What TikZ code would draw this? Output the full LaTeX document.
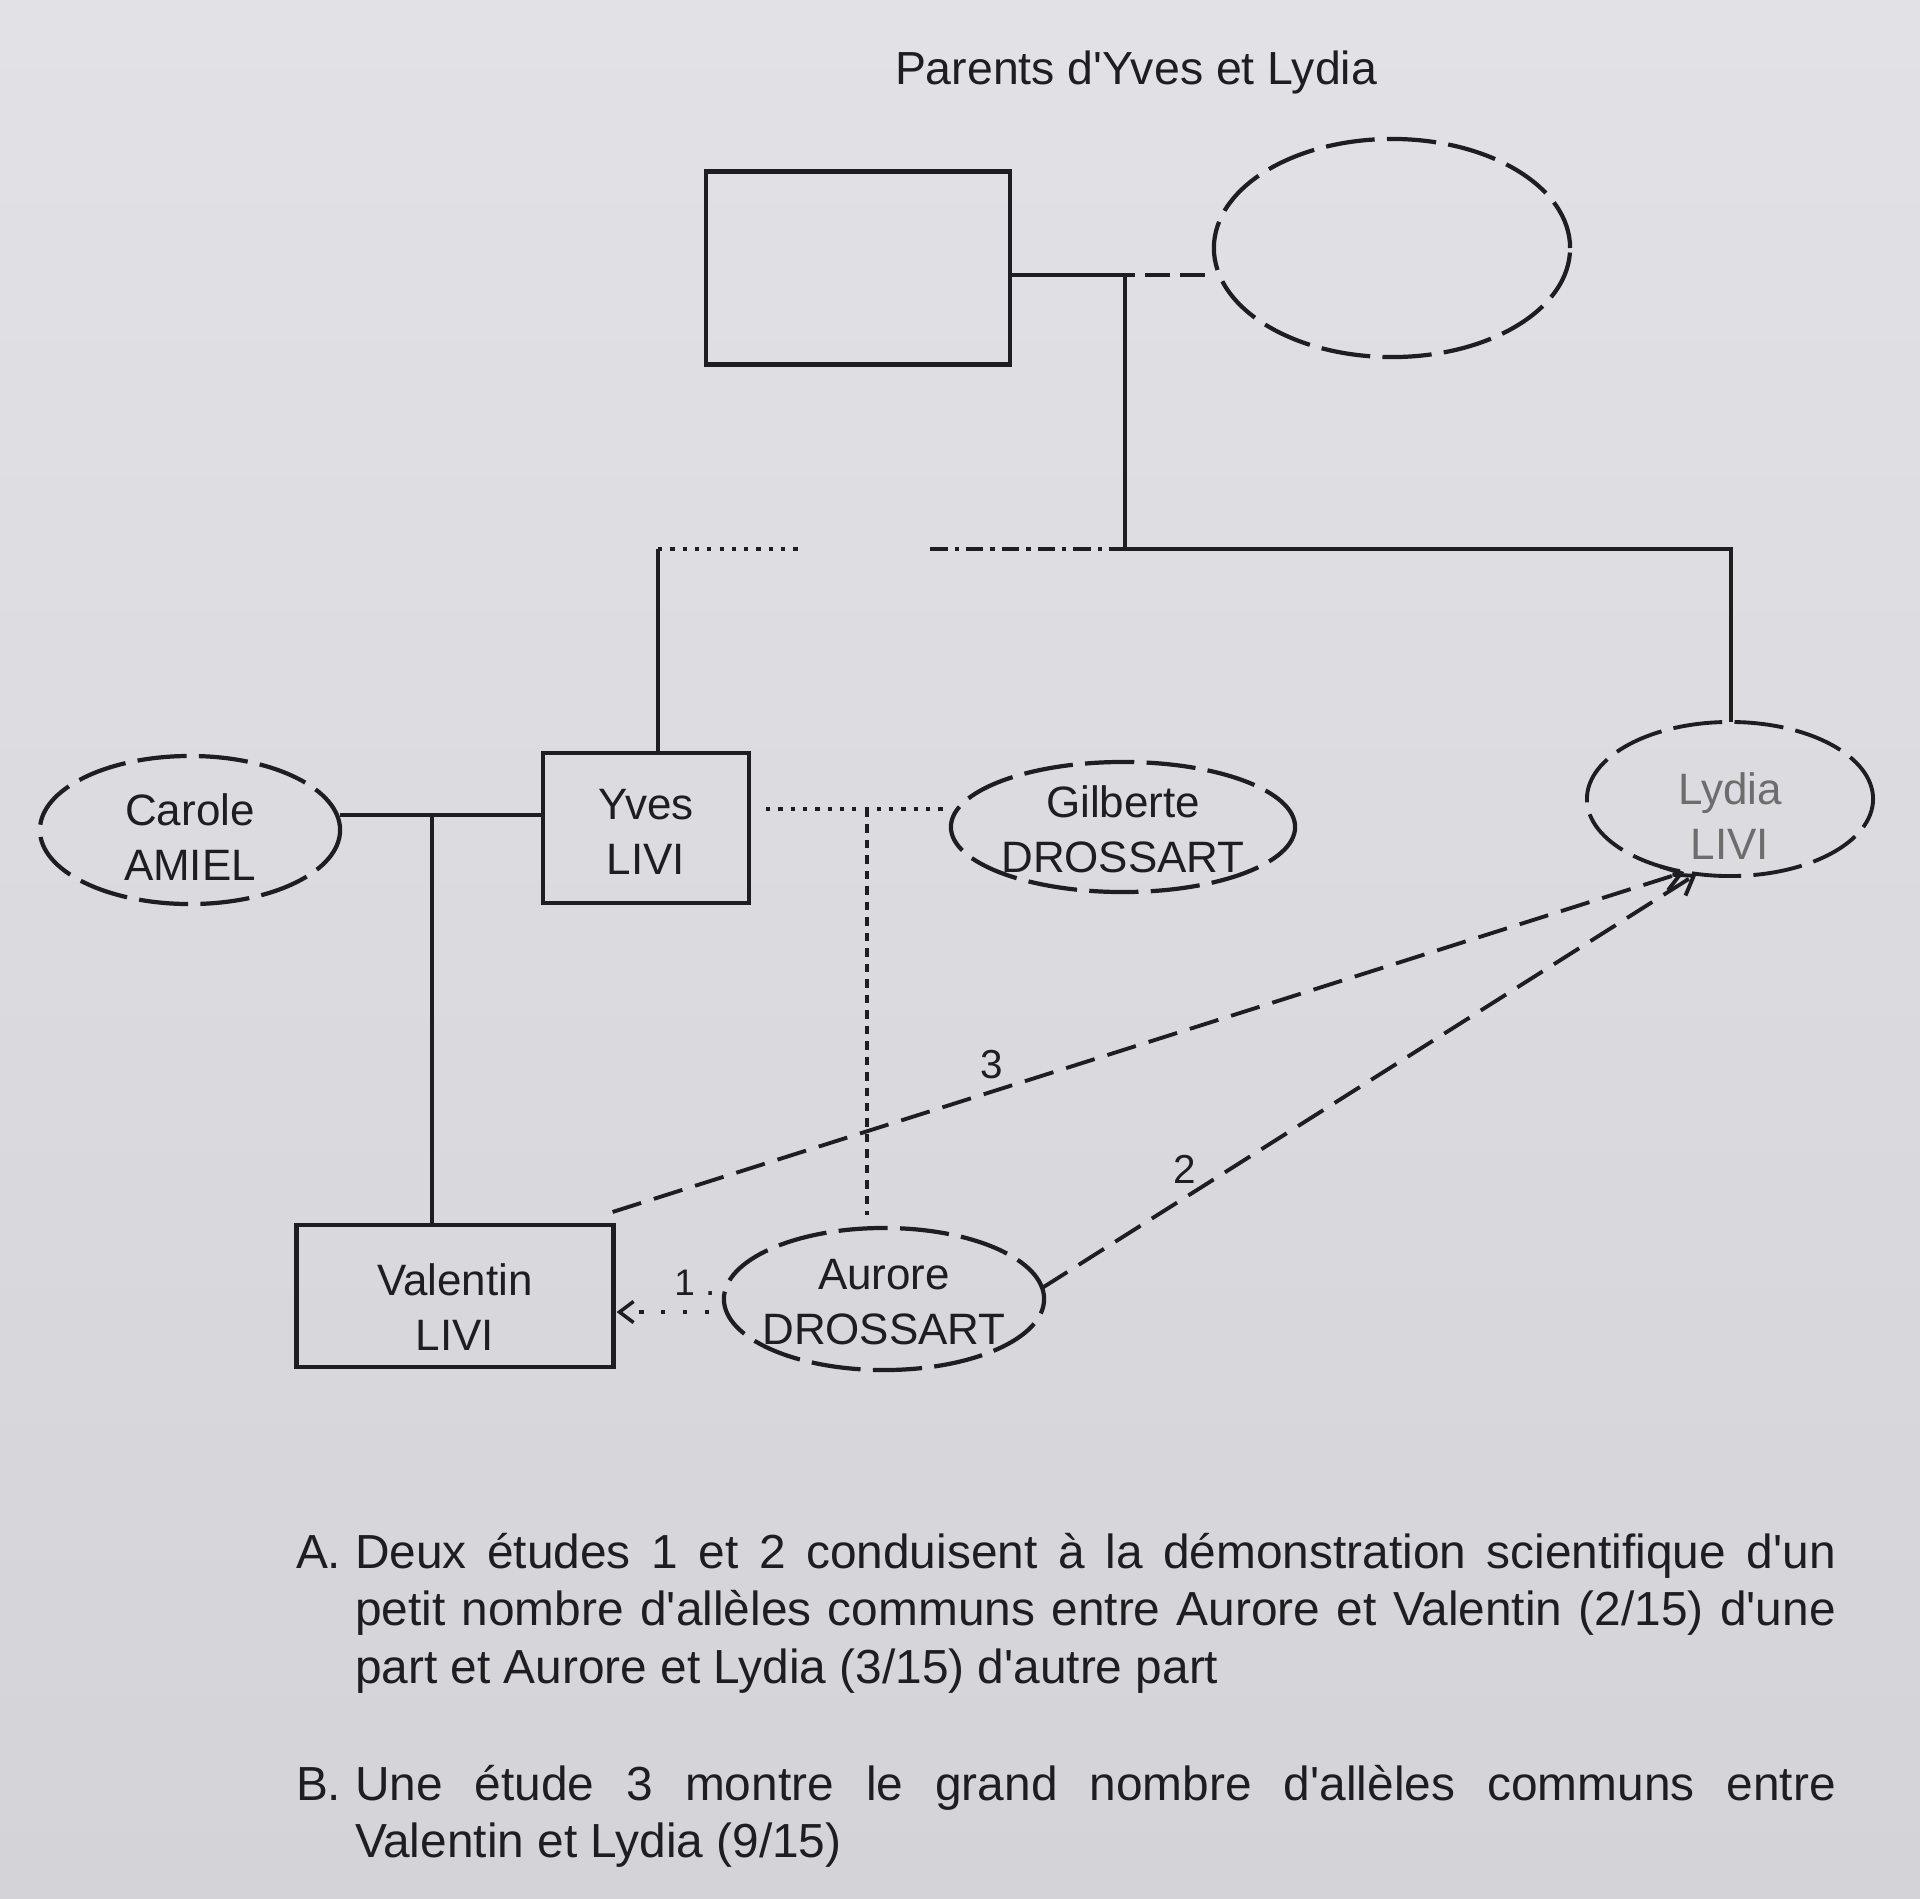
\documentclass[tikz,border=0pt]{standalone}
\usepackage{fontspec}
\setmainfont{Liberation Sans}[Ligatures=TeXOff]
\usetikzlibrary{shapes.geometric,calc,arrows.meta}
\definecolor{papertop}{RGB}{226,225,229}
\definecolor{paperbot}{RGB}{212,211,216}
\definecolor{ink}{RGB}{30,30,32}
\begin{document}
\begin{tikzpicture}[x=0.01cm,y=-0.01cm,
  every node/.style={inner sep=0pt, outer sep=0pt, text=ink},
  nametext/.style={font=\fontsize{12.5}{15.6}\selectfont, align=center, text=ink},
  malebox/.style={draw=ink, line width=1.2pt, rectangle, nametext},
  femaleell/.style={draw=ink, line width=1.2pt, ellipse, dash pattern=on 14pt off 3.5pt},
  link/.style={draw=ink, line width=1pt},
  dotlink/.style={draw=ink, line width=1.1pt, dash pattern=on 1.2pt off 2.3pt},
  vdotlink/.style={draw=ink, line width=1pt, dash pattern=on 2.4pt off 2pt},
  brokenlink/.style={draw=ink, line width=1pt, dash pattern=on 5pt off 2pt on 1.2pt off 2pt},
  studyarrow/.style={draw=ink, line width=1.1pt, dash pattern=on 8.5pt off 3.8pt, -{Straight Barb[length=5pt,width=7pt]}},
  studynum/.style={font=\fontsize{11.5}{13}\selectfont},
  para/.style={font=\fontsize{13.6}{16.4}\selectfont\sloppy, text width=14.8cm, align=justify},
  parlabel/.style={font=\fontsize{13.6}{16.4}\selectfont}
]
% paper
\shade[top color=papertop, bottom color=paperbot] (0,0) rectangle (1920,1899);
\useasboundingbox (0,0) rectangle (1920,1899);

% title
\node[anchor=base, font=\fontsize{13.2}{15}\selectfont] (title) at (1136,84) {Parents d'Yves et Lydia};

% parents
\node[malebox, minimum width=3.04cm, minimum height=1.93cm] (father) at (858,268) {};
\node[femaleell, minimum width=3.56cm, minimum height=2.18cm] (mother) at (1392,248) {};

% generation 2
\node[femaleell, minimum width=3.0cm, minimum height=1.48cm,
  label={[nametext, yshift=-0.07cm]center:{Carole\\AMIEL}}] (carole) at (190,830) {};
\node[malebox, minimum width=2.06cm, minimum height=1.50cm,
  label={[nametext, yshift=-0.04cm]center:{Yves\\LIVI}}] (yves) at (646,828) {};
\node[femaleell, minimum width=3.44cm, minimum height=1.30cm,
  label={[nametext, yshift=-0.02cm]center:{Gilberte\\DROSSART}}] (gilberte) at (1123,827) {};
\node[femaleell, line width=1.1pt, minimum width=2.86cm, minimum height=1.54cm,
  label={[nametext, text=ink!65, yshift=-0.17cm]center:{Lydia\\LIVI}}] (lydia) at (1730,799) {};

% generation 3
\node[malebox, minimum width=3.17cm, minimum height=1.42cm,
  label={[nametext, yshift=-0.11cm]center:{Valentin\\LIVI}}] (valentin) at (455,1296) {};
\node[femaleell, minimum width=3.2cm, minimum height=1.42cm,
  label={[nametext, yshift=-0.03cm]center:{Aurore\\DROSSART}}] (aurore) at (884,1299) {};

% junction points
\coordinate (j1) at (1125,275);
\coordinate (jb) at (1110,275);
\coordinate (j2) at (1125,549);
\coordinate (j3) at (658,549);
\coordinate (jd1) at (805,549);
\coordinate (jd2) at (930,549);
\coordinate (j4) at (1731,549);
\coordinate (cy) at (432,815);
\coordinate (gd) at (867,809);

% parents' union
\draw[link] (father.east |- j1) -- (jb);
\draw[link, dash pattern=on 7pt off 3pt] (jb) -- (mother.west |- j1);
\draw[link] (j1) -- (j2) -- (j4) -- (j4 |- lydia.north);
\draw[brokenlink] (jd2) -- (j2);
\draw[dotlink] (j3) -- (jd1);
\draw[link] (j3) -- (j3 |- yves.north);

% Yves unions
\draw[link] (carole.east |- cy) -- (yves.west |- cy);
\draw[link] (cy) -- (cy |- valentin.north);
\draw[dotlink, shorten <=0.17cm, shorten >=0.08cm] (yves.east |- gd) -- (gilberte.west |- gd);
\draw[vdotlink, shorten >=0.13cm] (gd) -- (gd |- aurore.north);

% studies
\draw[draw=ink, line width=1pt, dash pattern=on 1.2pt off 5pt, -{Straight Barb[length=4pt,width=6pt]}]
  ($(aurore.west)+(-15,13)$) -- ($(valentin.east)+(3,16)$);
\node[font=\fontsize{10.5}{12}\selectfont] (n1) at (695,1283) {1 .};
\draw[studyarrow] ($(valentin.north east)+(-1,-13)$) -- (lydia.238);
\node[studynum] (n3) at (992,1065) {3};
\draw[studyarrow] (aurore.4) -- (lydia.246);
\node[studynum] (n2) at (1185,1169) {2};

% text
\node[parlabel, anchor=base west] (la) at (296,1568) {A.};
\node[para, anchor=base west] (ta) at (355,1568) {Deux études 1 et 2 conduisent à la démonstration scientifique d'un\linebreak petit nombre d'allèles communs entre Aurore et Valentin (2/15) d'une\linebreak part et Aurore et Lydia (3/15) d'autre part};
\node[parlabel, anchor=base west] (lb) at (296,1800) {B.};
\node[para, anchor=base west] (tb) at (355,1800) {Une étude 3 montre le grand nombre d'allèles communs entre\linebreak Valentin et Lydia (9/15)};
\end{tikzpicture}
\end{document}
